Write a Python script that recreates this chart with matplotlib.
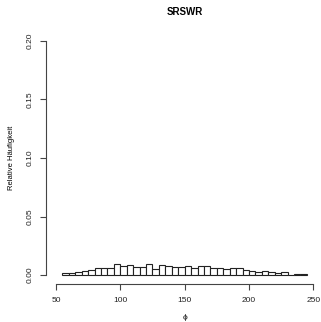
import numpy as np
import matplotlib.pyplot as plt

# --- data (density histogram, bin width 5) ---
bin_start = 55
bin_width = 5
density = [0.0015, 0.0017, 0.0023, 0.0032, 0.0045, 0.0057, 0.0062, 0.0057,
           0.0091, 0.0079, 0.0085, 0.0068, 0.0068, 0.0091, 0.0051, 0.0083,
           0.0079, 0.0068, 0.0068, 0.0074, 0.0057, 0.0074, 0.0074, 0.0057,
           0.0057, 0.0051, 0.0057, 0.0057, 0.0040, 0.0034, 0.0028, 0.0034,
           0.0023, 0.0017, 0.0023, 0.0000, 0.0006, 0.0006]
x_ticks = [50, 100, 150, 200, 250]
y_ticks = [0.00, 0.05, 0.10, 0.15, 0.20]

plt.rcParams['font.family'] = ['Liberation Sans', 'DejaVu Sans']

fig = plt.figure(figsize=(3.21, 3.22), dpi=100)
ax = fig.add_axes([45.7 / 321, 1 - 284.4 / 322, 277.9 / 321, 252.8 / 322])

lefts = bin_start + bin_width * np.arange(len(density))
ax.bar(lefts, density, width=bin_width, align='edge',
       facecolor='white', edgecolor='#222222', linewidth=0.8)

# R style: 4% padding, detached axes
ax.set_xlim(50 - 8, 250 + 8)
ax.set_ylim(-0.008, 0.208)
for s in ['top', 'right']:
    ax.spines[s].set_visible(False)
ax.spines['left'].set_bounds(0, 0.2)
ax.spines['bottom'].set_bounds(50, 250)
for s in ['left', 'bottom']:
    ax.spines[s].set_color('#444444')
    ax.spines[s].set_linewidth(0.8)

ax.set_xticks(x_ticks)
ax.set_xticklabels([str(t) for t in x_ticks], fontsize=6, color='#222222')
ax.set_yticks(y_ticks)
ax.set_yticklabels(['%.2f' % t for t in y_ticks], fontsize=6, color='#222222',
                   rotation=90, va='center')
ax.tick_params(length=4, width=0.8, color='#444444', pad=5)

ax.set_title('SRSWR', fontsize=7, fontweight='bold', pad=12)
ax.set_xlabel('ϕ', fontsize=6, labelpad=7)
ax.set_ylabel('Relative Häufigkeit', fontsize=5.5, labelpad=8)

fig.savefig('out.png', dpi=100)
